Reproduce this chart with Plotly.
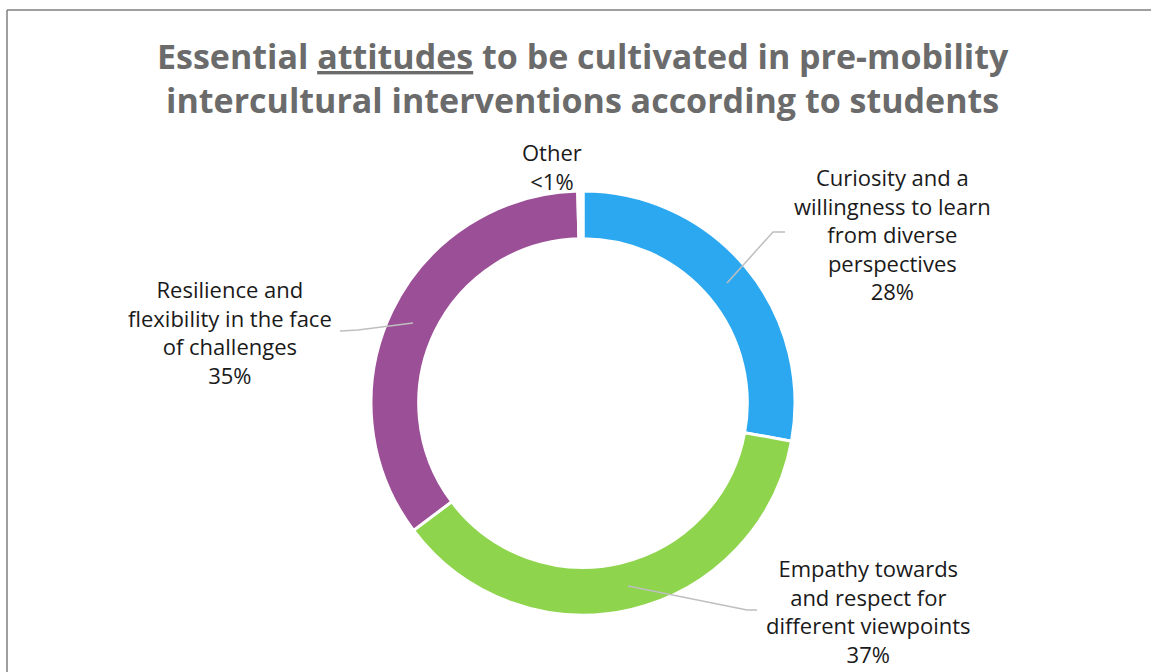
import plotly.graph_objects as go

W, H = 1151, 672

# Survey shares (percent) for each attitude
categories = [
    "Curiosity and a<br>willingness to learn<br>from diverse<br>perspectives",
    "Empathy towards<br>and respect for<br>different viewpoints",
    "Resilience and<br>flexibility in the face<br>of challenges",
    "Other",
]
shares = [28, 37, 35, 0.4]
share_labels = ["28%", "37%", "35%", "<1%"]
colors = ["#2CA8F0", "#8ED44C", "#9B4F96", "#FFFFFF"]

# donut geometry in pixels
cx, cy, r = 583, 403, 212


def px(x):
    return x / W


def py(y):
    return 1 - y / H


fig = go.Figure(
    go.Pie(
        labels=[c.replace("<br>", " ") for c in categories],
        values=shares,
        sort=False,
        direction="clockwise",
        rotation=0,
        hole=0.775,
        marker=dict(colors=colors, line=dict(color="#FFFFFF", width=3)),
        textinfo="none",
        hoverinfo="label+percent",
        showlegend=False,
        domain=dict(x=[px(cx - r), px(cx + r)], y=[py(cy + r), py(cy - r)]),
    )
)

# label placement (pixel centres) and leader lines
label_pos = [(892, 234), (868, 611), (230, 332), (552, 166)]
leaders = [
    [(727, 283), (773, 232), (785, 232)],
    [(628, 586), (747, 610), (757, 610)],
    [(413, 323), (358, 330), (340, 331)],
]

annotations = []
for cat, lab, (lx, ly) in zip(categories, share_labels, label_pos):
    annotations.append(
        dict(
            x=px(lx), y=py(ly), xref="paper", yref="paper",
            text=f"{cat}<br>{lab}", showarrow=False,
            font=dict(family="Open Sans", size=22, color="#1A1A1A"),
            align="center", xanchor="center", yanchor="middle",
        )
    )

annotations.append(
    dict(
        x=px(583), y=py(78), xref="paper", yref="paper",
        text="<b>Essential <u>attitudes</u> to be cultivated in pre-mobility<br>"
             "intercultural interventions according to students</b>",
        showarrow=False,
        font=dict(family="Open Sans", size=34, color="#6B6B6B"),
        align="center", xanchor="center", yanchor="middle",
    )
)

shapes = []
for pts in leaders:
    path = "M " + " L ".join(f"{px(x)},{py(y)}" for x, y in pts)
    shapes.append(dict(type="path", path=path, xref="paper", yref="paper",
                       line=dict(color="#BFBFBF", width=1.5)))

# chart frame (top and left edges)
shapes.append(dict(type="line", xref="paper", yref="paper", x0=px(7), x1=1.01,
                   y0=py(10), y1=py(10), line=dict(color="#7F7F7F", width=1.5)))
shapes.append(dict(type="line", xref="paper", yref="paper", x0=px(7), x1=px(7),
                   y0=py(10), y1=-0.01, line=dict(color="#7F7F7F", width=1.5)))

fig.update_layout(
    width=W, height=H,
    margin=dict(l=0, r=0, t=0, b=0),
    paper_bgcolor="#FFFFFF",
    plot_bgcolor="#FFFFFF",
    annotations=annotations,
    shapes=shapes,
)

fig.write_html("out.html")
